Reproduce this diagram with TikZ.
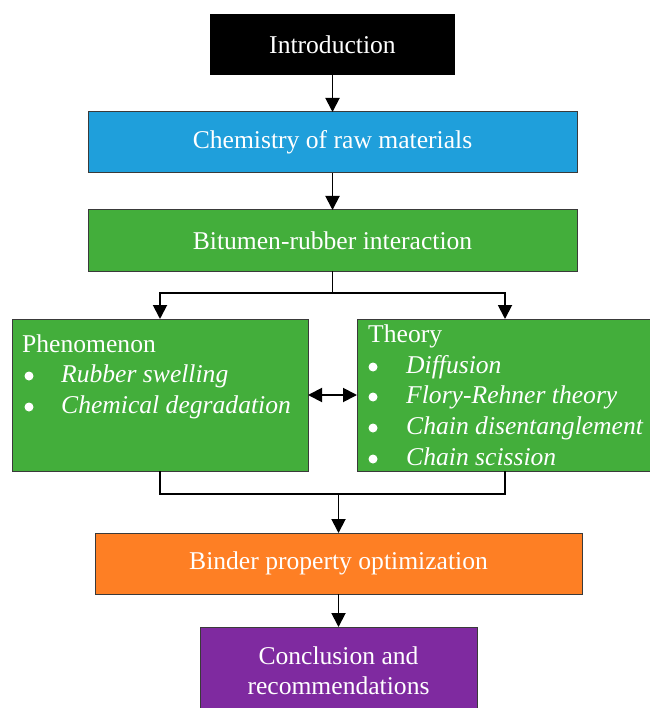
\documentclass[tikz,border=0pt]{standalone}
\usepackage{fontspec}
\setmainfont{Liberation Serif}
\usetikzlibrary{arrows.meta}
\definecolor{cblue}{HTML}{1F9FDB}
\definecolor{cgreen}{HTML}{43AE3B}
\definecolor{corange}{HTML}{FE7F24}
\definecolor{cpurple}{HTML}{7F2AA0}
\definecolor{cedge}{HTML}{3A3A3A}
\begin{document}
\begin{tikzpicture}[x=1pt,y=-1pt,
  font=\fontsize{25.6}{31}\selectfont,
  box/.style={draw=cedge, line width=1pt, text=white, inner sep=0pt, outer sep=0pt, anchor=north west},
  txt/.style={text=white, inner sep=0pt, anchor=base west},
  bul/.style={circle, fill=white, inner sep=0pt, minimum size=9pt},
  conn/.style={line width=1.9pt},
  arr/.style={conn,-{Triangle[length=14pt,width=14pt]}},
  darr/.style={conn,{Triangle[length=14pt,width=14pt]}-{Triangle[length=14pt,width=14pt]}}]
\useasboundingbox (0,0) rectangle (649,708);
\fill[white] (0,0) rectangle (649,708);
% boxes
\node[box, fill=black, draw=none, minimum width=245pt, minimum height=61pt] (intro) at (210,14) {Introduction};
\node[box, fill=cblue, minimum width=489pt, minimum height=61pt] (chem) at (88,112) {Chemistry of raw materials};
\node[box, fill=cgreen, minimum width=489pt, minimum height=61pt] (bit) at (88,210) {Bitumen-rubber interaction};
\node[box, fill=cgreen, minimum width=296pt, minimum height=152pt] (phen) at (12,319) {};
\node[box, fill=cgreen, minimum width=296pt, minimum height=152pt] (theory) at (357,319) {};
\node[box, fill=corange, minimum width=487pt, minimum height=61pt] (binder) at (95,533) {Binder property optimization};
\node[box, fill=cpurple, minimum width=277pt, minimum height=88pt, align=center, font=\fontsize{25.6}{30}\selectfont] (concl) at (200,627) {Conclusion and\\recommendations};
% phenomenon text
\node[txt] (phT) at (22,352) {Phenomenon};
\node[bul] (phb1) at (29,376) {};
\node[txt] (ph1) at (61,382) {\itshape Rubber swelling};
\node[bul] (phb2) at (29,407) {};
\node[txt] (ph2) at (61,413) {\itshape Chemical degradation};
% theory text
\node[txt] (thT) at (368,342) {Theory};
\node[bul] (thb1) at (373,367) {};
\node[txt] (th1) at (406,373) {\itshape Diffusion};
\node[bul] (thb2) at (373,397) {};
\node[txt] (th2) at (406,403) {\itshape Flory-Rehner theory};
\node[bul] (thb3) at (373,428) {};
\node[txt] (th3) at (406,434) {\itshape Chain disentanglement};
\node[bul] (thb4) at (373,459) {};
\node[txt] (th4) at (406,465) {\itshape Chain scission};
% connectors
\draw[arr] (intro.south) -- (chem.north);
\draw[arr] (chem.south) -- (bit.north);
\coordinate (split) at ([yshift=-22pt]bit.south);
\draw[conn] (bit.south) -- (split);
\draw[arr] (split) -| (phen.north);
\draw[arr] (split) -| (theory.north);
\draw[darr] (phen.east) -- (theory.west);
\coordinate (merge) at ([yshift=39pt]binder.north);
\draw[conn] (phen.south) |- (merge);
\draw[conn] (theory.south) |- (merge);
\draw[arr] (merge) -- (binder.north);
\draw[arr] (binder.south) -- (concl.north);
\end{tikzpicture}
\end{document}
